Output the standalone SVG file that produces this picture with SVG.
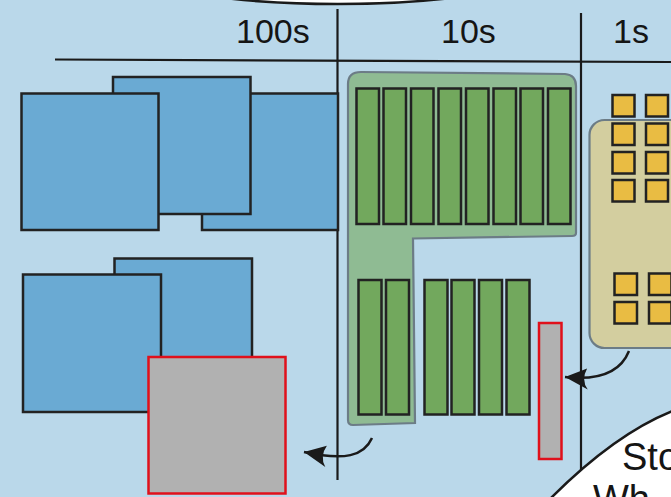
<svg xmlns="http://www.w3.org/2000/svg" width="671" height="497" viewBox="0 0 671 497">
<defs>
<style>
.blue{fill:#6aaad3;stroke:#222;stroke-width:2.5}
.bar{fill:#72a85d;stroke:#222;stroke-width:2.5}
.sq{fill:#e9bc43;stroke:#222;stroke-width:2.5}
.hl{fill:#b1b1b1;stroke:#e0101b;stroke-width:2.5}
.ax{stroke:#1a1a1a;stroke-width:2.2;fill:none}
.lbl{font-family:"Liberation Sans",Arial,sans-serif;font-size:34px;fill:#151515}
.big{font-family:"Liberation Sans",Arial,sans-serif;font-size:38px;fill:#151515}
.conn{stroke:#1a1a1a;stroke-width:2.5;fill:none}
</style>
<marker id="barb" markerUnits="userSpaceOnUse" markerWidth="30" markerHeight="30" viewBox="-26 -15 30 30" refX="0" refY="0" orient="auto">
<path d="M0,0 L-24,-10 Q-16,-1 -21,11 Z" fill="#1a1a1a"/>
</marker>
</defs>
<rect x="0" y="0" width="671" height="497" fill="#bad8ea"/>

<g id="top-bubble">
<ellipse cx="338" cy="-36" rx="213" ry="40" fill="#fff" stroke="#1a1a1a" stroke-width="2.5"/>
</g>

<g id="axes">
<path class="ax" d="M55,59.5 L671,62"/>
<path class="ax" d="M337.5,9 L337.5,480"/>
<path class="ax" d="M581,13 L581,480"/>
<text class="lbl" x="236" y="43">100s</text>
<text class="lbl" x="441" y="43">10s</text>
<text class="lbl" x="613" y="43">1s</text>
</g>

<g id="blue-top">
<rect id="b-right" class="blue" x="202" y="93.5" width="136" height="136.5"/>
<rect id="b-mid" class="blue" x="113" y="77" width="137.5" height="137"/>
<rect id="b-left" class="blue" x="21.5" y="93.5" width="137" height="136.5"/>
</g>

<g id="blue-bottom">
<rect id="b2-back" class="blue" x="114.5" y="258.5" width="137.5" height="137"/>
<rect id="b2-front" class="blue" x="23" y="274.5" width="138" height="137.5"/>
<rect id="gray-big" class="hl" x="148.5" y="357" width="137" height="136.5"/>
</g>

<g id="green-region">
<path d="M348,84 Q348,72 361,72 L565,74 Q576,75 576,86 L576,233 Q576,236 572,236 L413,238.5 L415,423 L353,425 Q348,425 348,420 Z" fill="#8fbb93" stroke="#6c7c86" stroke-width="2.2"/>
</g>

<g id="bars-top">
<rect class="bar" x="356.5" y="88.5" width="22.5" height="135.5"/>
<rect class="bar" x="383.5" y="88.5" width="22.5" height="135.5"/>
<rect class="bar" x="411" y="88.5" width="22.5" height="135.5"/>
<rect class="bar" x="438.5" y="88.5" width="22.5" height="135.5"/>
<rect class="bar" x="466" y="88.5" width="22.5" height="135.5"/>
<rect class="bar" x="493.5" y="88.5" width="22.5" height="135.5"/>
<rect class="bar" x="520.5" y="88.5" width="22.5" height="135.5"/>
<rect class="bar" x="548" y="88.5" width="22.5" height="135.5"/>
</g>

<g id="bars-bottom">
<rect class="bar" x="358.5" y="280" width="23" height="134.5"/>
<rect class="bar" x="386" y="280" width="23" height="134.5"/>
<rect class="bar" x="424.5" y="280" width="23" height="134.5"/>
<rect class="bar" x="451.5" y="280" width="23" height="134.5"/>
<rect class="bar" x="479" y="280" width="23" height="134.5"/>
<rect class="bar" x="506.5" y="280" width="23" height="134.5"/>
</g>

<g id="gray-bar">
<rect class="hl" x="539" y="323" width="22.5" height="136"/>
</g>

<g id="tan-region">
<rect x="589.5" y="120" width="110" height="228" rx="15" ry="15" fill="#d3ce9f" stroke="#6c7c86" stroke-width="2.2"/>
</g>

<g id="yellow-squares">
<rect class="sq" x="612.5" y="95" width="22" height="21.5"/>
<rect class="sq" x="646" y="95" width="22" height="21.5"/>
<rect class="sq" x="612.5" y="123.5" width="22" height="21.5"/>
<rect class="sq" x="646" y="123.5" width="22" height="21.5"/>
<rect class="sq" x="612.5" y="152" width="22" height="21.5"/>
<rect class="sq" x="646" y="152" width="22" height="21.5"/>
<rect class="sq" x="612.5" y="180" width="22" height="21.5"/>
<rect class="sq" x="646" y="180" width="22" height="21.5"/>
<rect class="sq" x="614.5" y="273.5" width="22.5" height="21.5"/>
<rect class="sq" x="649" y="273.5" width="22.5" height="21.5"/>
<rect class="sq" x="614.5" y="302" width="22.5" height="21.5"/>
<rect class="sq" x="649" y="302" width="22.5" height="21.5"/>
</g>

<g id="connectors">
<path class="conn" d="M372,438 C364,456 345,461 304,452" marker-end="url(#barb)"/>
<path class="conn" d="M629,351 C621,371 601,381 565,377" marker-end="url(#barb)"/>
</g>

<g id="bottom-bubble">
<path d="M551.7,497 Q614.3,434.4 671,411.7 L671,497 Z" fill="#fff"/>
<path d="M549,500 Q614.3,434.4 672,411.3" fill="none" stroke="#1a1a1a" stroke-width="2.5"/>
<text class="big" x="622" y="470">Sto</text>
<text class="big" x="593" y="512">Wh</text>
</g>
</svg>
